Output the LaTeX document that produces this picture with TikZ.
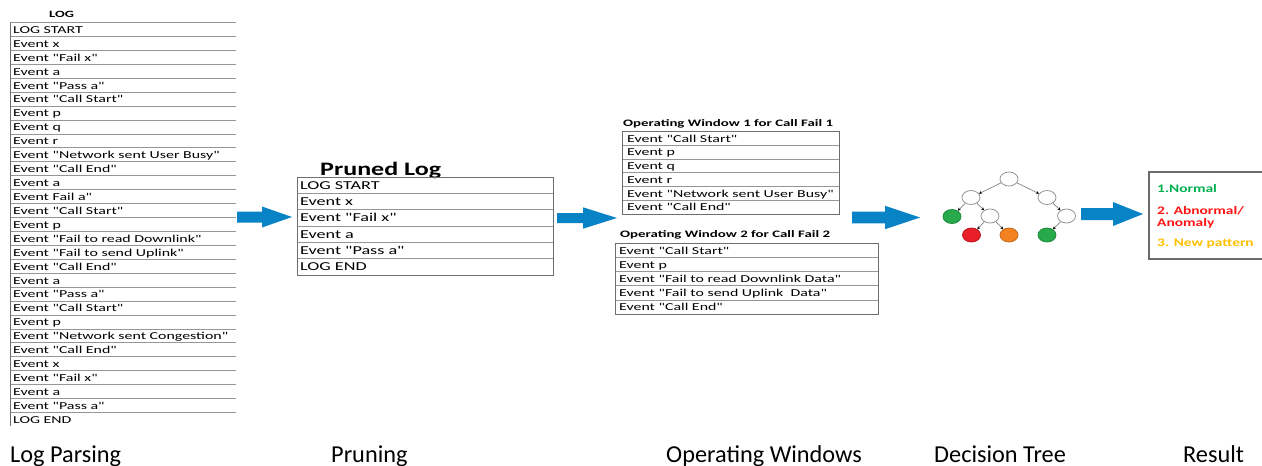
\documentclass[tikz,border=0pt]{standalone}
\usepackage{fontspec}
\setmainfont{Carlito}
\newfontfamily\tabfont[FakeStretch=1.5]{Carlito}
\newfontfamily\prfont[FakeStretch=1.37]{Carlito}
\newfontfamily\resfont[FakeStretch=1.34]{Carlito}
\usetikzlibrary{arrows.meta,shapes.geometric}
\definecolor{arrowblue}{RGB}{8,132,198}
\definecolor{gridgray}{RGB}{150,150,150}
\definecolor{bordergray}{RGB}{110,110,110}
\definecolor{nodegray}{RGB}{150,150,150}
\definecolor{edgegray}{RGB}{130,130,130}
\definecolor{tgreen}{RGB}{40,170,75}
\definecolor{tred}{RGB}{232,30,40}
\definecolor{torange}{RGB}{245,130,32}
\definecolor{rgreen}{RGB}{0,176,80}
\definecolor{rred}{RGB}{255,20,20}
\definecolor{ryellow}{RGB}{255,192,0}
\tikzset{
  logrow/.style={anchor=base west, inner sep=0pt, font=\tabfont\fontsize{10.6}{12}\selectfont},
  prrow/.style={anchor=base west, inner sep=0pt, font=\tabfont\fontsize{12.1}{14}\selectfont},
  owtitle/.style={anchor=base west, inner sep=0pt, font=\tabfont\bfseries\fontsize{9.9}{12}\selectfont},
  gridline/.style={draw=gridgray, line width=0.8pt},
  tborder/.style={draw=bordergray, line width=1pt},
  tnode/.style={ellipse, draw=nodegray, fill=white, minimum width=18pt, minimum height=14pt, inner sep=0pt, line width=0.8pt},
  tedge/.style={draw=edgegray, line width=0.7pt, -{Stealth[length=3pt,width=3pt,black]}},
  stage/.style={anchor=base west, inner sep=0pt, font=\fontsize{24.3}{28}\selectfont},
  restext/.style={anchor=base west, inner sep=0pt, font=\resfont\bfseries\fontsize{11.5}{14}\selectfont},
  pics/barrow/.style args={#1/#2/#3/#4}{code={
    \fill[arrowblue] (0,-#3) -- (#1,-#3) -- (#1,-#4) -- (#2,0) -- (#1,#4) -- (#1,#3) -- (0,#3) -- cycle;}},
}
\begin{document}
\begin{tikzpicture}[x=1pt,y=-1pt]
\useasboundingbox (0,0) rectangle (1262,466);
\fill[white] (0,0) rectangle (1262,466);

% ---------------- LOG ----------------
\node[owtitle, font=\tabfont\bfseries\fontsize{9.6}{12}\selectfont] (logtitle) at (49,17.3) {LOG};
\foreach \i in {0,...,28}
  \draw[gridline] (10,{22.5+13.93*\i}) -- (236,{22.5+13.93*\i});
\draw[draw=bordergray, line width=1pt] (10,22.5) -- (10,426);
\foreach \t [count=\i from 0] in {LOG START, Event x, Event "Fail x", Event a, Event "Pass a",
  Event "Call Start", Event p, Event q, Event r, Event "Network sent User Busy", Event "Call End",
  Event a, Event Fail a", Event "Call Start", Event p, Event "Fail to read Downlink",
  Event "Fail to send Uplink", Event "Call End", Event a, Event "Pass a", Event "Call Start",
  Event p, Event "Network sent Congestion", Event "Call End", Event x, Event "Fail x", Event a,
  Event "Pass a", LOG END}
  \node[logrow] (log\i) at (13,{22.5+13.93*\i+10.8}) {\t};

% ---------------- Pruned log ----------------
\node[anchor=base west, inner sep=0pt, font=\prfont\bfseries\fontsize{19}{22}\selectfont] (prtitle) at (320,175) {Pruned Log};
\foreach \i in {1,...,5}
  \draw[gridline] (297,{177+16.33*\i}) -- (553,{177+16.33*\i});
\draw[tborder] (297,177) rectangle (553,275);
\foreach \t [count=\i from 0] in {LOG START, Event x, Event "Fail x", Event a, Event "Pass a", LOG END}
  \node[prrow] (pr\i) at (300,{177+16.33*\i+12.3}) {\t};

% ---------------- Operating windows ----------------
\node[owtitle] (ow1title) at (623,126) {Operating Window 1 for Call Fail 1};
\foreach \i in {1,...,5}
  \draw[gridline] (622,{131.5+13.75*\i}) -- (839,{131.5+13.75*\i});
\draw[tborder] (622,131.5) rectangle (839,214);
\foreach \t [count=\i from 0] in {Event "Call Start", Event p, Event q, Event r,
  Event "Network sent User Busy", Event "Call End"}
  \node[logrow] (owa\i) at (627,{131.5+13.75*\i+10.5}) {\t};

\node[owtitle] (ow2title) at (620,237.5) {Operating Window 2 for Call Fail 2};
\foreach \i in {1,...,4}
  \draw[gridline] (615,{243.5+14.1*\i}) -- (878,{243.5+14.1*\i});
\draw[tborder] (615,243.5) rectangle (878,314);
\foreach \t [count=\i from 0] in {Event "Call Start", Event p, Event "Fail to read Downlink Data",
  Event "Fail to send Uplink\ \ Data", Event "Call End"}
  \node[logrow] (owb\i) at (619,{243.5+14.1*\i+10.6}) {\t};

% ---------------- Decision tree ----------------
\node[tnode] (root) at (1009,179) {};
\node[tnode] (tl) at (971,197.5) {};
\node[tnode] (tr) at (1047,197.5) {};
\node[tnode, fill=tgreen, draw=tgreen!80!black] (tll) at (952,216.5) {};
\node[tnode] (tlm) at (990,216) {};
\node[tnode] (trr) at (1066.5,216) {};
\node[tnode, fill=tred, draw=tred!80!black] (tlmr) at (971.5,235) {};
\node[tnode, fill=torange, draw=torange!80!black] (tlmo) at (1009,235) {};
\node[tnode, fill=tgreen, draw=tgreen!80!black] (trrg) at (1047,235) {};
\draw[tedge] (root) -- (tl);
\draw[tedge] (root) -- (tr);
\draw[tedge] (tl) -- (tll);
\draw[tedge] (tl) -- (tlm);
\draw[tedge] (tlm) -- (tlmr);
\draw[tedge] (tlm) -- (tlmo);
\draw[tedge] (tr) -- (trr);
\draw[tedge] (trr) -- (trrg);

% ---------------- Result ----------------
\node[draw=gray!85!black, line width=1.5pt, anchor=north west, minimum width=125pt, minimum height=87pt, inner sep=0pt] (res) at (1148,171) {};
\node[restext, text=rgreen] (r1) at (1157,192.5) {1.Normal};
\node[restext, text=rred] (r2) at (1157,214) {2. Abnormal/};
\node[restext, text=rred] (r2b) at (1157,226) {Anomaly};
\node[restext, text=ryellow] (r3) at (1157,246.5) {3. New pattern};

% ---------------- Block arrows ----------------
\pic at (237,217) {barrow=25/55/5.5/10.5};
\pic at (557,218) {barrow=26/60/5/10.7};
\pic at (852,217.5) {barrow=33/68/5.8/11.7};
\pic at (1081,214) {barrow=32/62/6/12};

% ---------------- Stage labels ----------------
\node[stage] (s1) at (10,462) {Log Parsing};
\node[stage] (s2) at (331,462) {Pruning};
\node[stage] (s3) at (666,462) {Operating Windows};
\node[stage] (s4) at (934,462) {Decision Tree};
\node[stage] (s5) at (1183,462) {Result};
\end{tikzpicture}
\end{document}
